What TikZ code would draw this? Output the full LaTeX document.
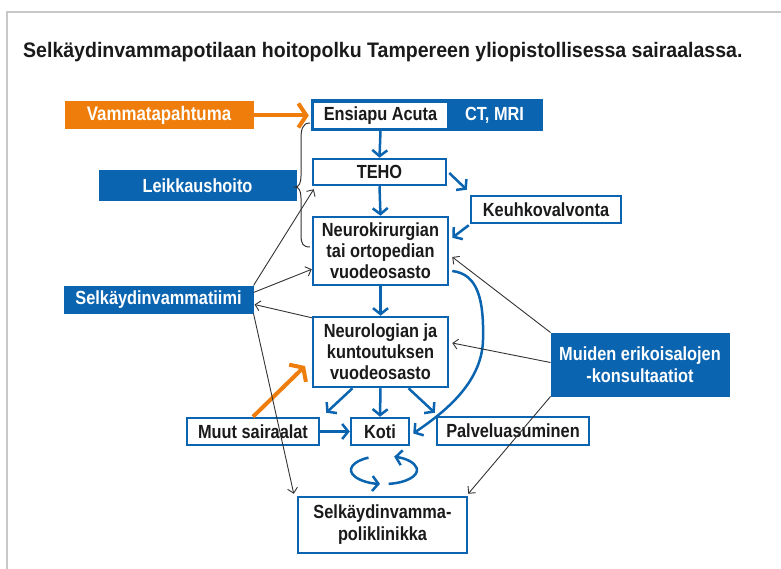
\documentclass[tikz,border=0pt]{standalone}
\usepackage{fontspec}
\setmainfont{Liberation Sans}[FakeStretch=0.86]
\newfontfamily\titlefont{Liberation Sans}[FakeStretch=0.93]
\usetikzlibrary{arrows.meta,calc}
\definecolor{hblue}{HTML}{0A64B0}
\definecolor{horange}{HTML}{EF7D0B}
\definecolor{framegray}{HTML}{C8C8C8}
\definecolor{dgray}{HTML}{333333}
\definecolor{txt}{HTML}{1A1A1A}
\begin{document}
\begin{tikzpicture}[x=1pt,y=-1pt,
  every node/.style={font=\fontsize{19}{21}\selectfont\bfseries, inner sep=0pt, align=center},
  wbox/.style={draw=hblue, line width=2.5pt, fill=white, text=txt},
  bbox/.style={draw=hblue, line width=1pt, fill=hblue, text=white},
  obox/.style={draw=horange, line width=1pt, fill=horange, text=white},
  barrow/.style={draw=hblue, line width=2.5pt, -{Straight Barb[length=6pt,width=15pt]}},
  karrow/.style={draw=dgray, line width=0.9pt, -{Straight Barb[length=5pt,width=10pt]}},
  oarrow/.style={draw=horange, line width=4pt, -{Straight Barb[length=8pt,width=24pt]}},
]
\useasboundingbox (0,0) rectangle (781,569);
% frame
\draw[framegray, line width=2pt] (6,12) -- (781,12);
\draw[framegray, line width=2pt] (7,12) -- (7,569);
% title
\node[anchor=base west, font=\titlefont\fontsize{21}{24}\selectfont\bfseries, text=txt] (title) at (23,58)
  {Selkäydinvammapotilaan hoitopolku Tampereen yliopistollisessa sairaalassa.};
% nodes
\node[obox, minimum width=188pt, minimum height=27pt, font=\fontsize{19.6}{21}\selectfont\bfseries] (vam) at (159,115.5) {Vammatapahtuma};
\node[wbox, minimum width=135pt, minimum height=27pt] (ens) at (380.5,115.5) {Ensiapu Acuta};
\node[bbox, minimum width=93pt, minimum height=27pt] (ct) at (494.5,115.5) {CT, MRI};
\draw[hblue, line width=2.5pt] (ens.north west) rectangle (ct.south east);
\node[wbox, minimum width=133pt, minimum height=26pt] (teho) at (379.5,172) {TEHO};
\node[wbox, minimum width=150pt, minimum height=27pt] (keuh) at (546,209.5) {Keuhkovalvonta};
\node[wbox, minimum width=135pt, minimum height=68pt] (neuro) at (380.5,251) {Neurokirurgian\\tai ortopedian\\vuodeosasto};
\node[bbox, minimum width=197pt, minimum height=30pt] (leik) at (197.5,186) {Leikkaushoito};
\node[bbox, minimum width=189pt, minimum height=27pt] (tiimi) at (158.5,299.5) {Selkäydinvammatiimi};
\node[wbox, minimum width=135pt, minimum height=70pt] (neurol) at (380.5,352) {Neurologian ja\\kuntoutuksen\\vuodeosasto};
\node[wbox, minimum width=132pt, minimum height=27pt] (muut) at (253,431.5) {Muut sairaalat};
\node[wbox, minimum width=58pt, minimum height=27pt] (koti) at (380,431.5) {Koti};
\node[wbox, minimum width=152pt, minimum height=28pt] (palv) at (513,431) {Palveluasuminen};
\node[bbox, minimum width=178pt, minimum height=63pt, font=\fontsize{19}{22}\selectfont\bfseries] (muid) at (640,364.5) {Muiden erikoisalojen\\-konsultaatiot};
\node[wbox, minimum width=169pt, minimum height=56pt, font=\fontsize{19}{22}\selectfont\bfseries] (poli) at (382.5,525) {Selkäydinvamma-\\poliklinikka};
% coordinates
\coordinate (kin) at ($(keuh.north west)+(-3,-5)$);
\coordinate (nkin) at ($(neuro.north east)+(3,22)$);
\coordinate (nkout) at ($(neuro.east)+(3,20)$);
\coordinate (cmid) at (483,340);
\coordinate (kotiin) at ($(koti.east)+(3,2)$);
\coordinate (nl1) at ($(neurol.south)+(-28,0)$);
\coordinate (nl3) at ($(neurol.south)+(28,0)$);
\coordinate (muutin) at ($(muut.north east)+(6,-4)$);
\coordinate (palvin) at ($(palv.north west)+(-1,-3)$);
\coordinate (oend) at (305,366);
% blue arrows
\draw[barrow] (ens.south) -- (teho.north);
\draw[barrow] (teho.south) -- (neuro.north);
\draw[barrow] ($(teho.east)+(2,1)$) -- (kin);
\draw[barrow] ($(keuh.south west)+(-1,1)$) -- (nkin);
\draw[barrow] (neuro.south) -- (neurol.north);
\draw[barrow] (nl1) -- (muutin);
\draw[barrow] (neurol.south) -- (koti.north);
\draw[barrow] (nl3) -- (palvin);
\draw[barrow] (muut.east) -- (koti.west);
\draw[barrow] (nkout) .. controls (478,274) and (484,300) .. (cmid)
  .. controls (482,385) and (440,415) .. (kotiin);
% cycle
\draw[barrow] (384,470) ++(242:33 and 14) arc[start angle=242, end angle=97, x radius=33, y radius=14];
\draw[barrow] (384,470) ++(82:33 and 14) arc[start angle=82, end angle=-72, x radius=33, y radius=14];
% orange arrows
\draw[oarrow] (vam.east) -- ($(ens.west)+(-3,0)$);
\draw[oarrow] (muut.north) -- (oend);
% black arrows
\draw[karrow] (tiimi.north east) -- ($(teho.south west)+(2,3)$);
\draw[karrow] ($(tiimi.north east)+(0,7)$) -- ($(neuro.south west)+(0,-17)$);
\draw[karrow] ($(neurol.north west)+(0,2)$) -- ($(tiimi.east)+(1,5)$);
\draw[karrow] (tiimi.south east) -- ($(poli.north west)+(-3,-2)$);
\draw[karrow] (muid.north west) -- ($(neuro.east)+(3,6)$);
\draw[karrow] ($(muid.west)+(0,-2)$) -- ($(neurol.east)+(3,-9)$);
\draw[karrow] (muid.south west) -- ($(poli.north east)+(0,-2)$);
% brace
\draw[dgray, line width=1pt] (310,123) .. controls (302,123) and (301,130) .. (301,140) -- (301,176)
  .. controls (301,183) and (299,187) .. (295,187) .. controls (299,187) and (301,191) .. (301,198)
  -- (301,235) .. controls (301,244) and (303,247) .. (310,247);
\end{tikzpicture}
\end{document}
